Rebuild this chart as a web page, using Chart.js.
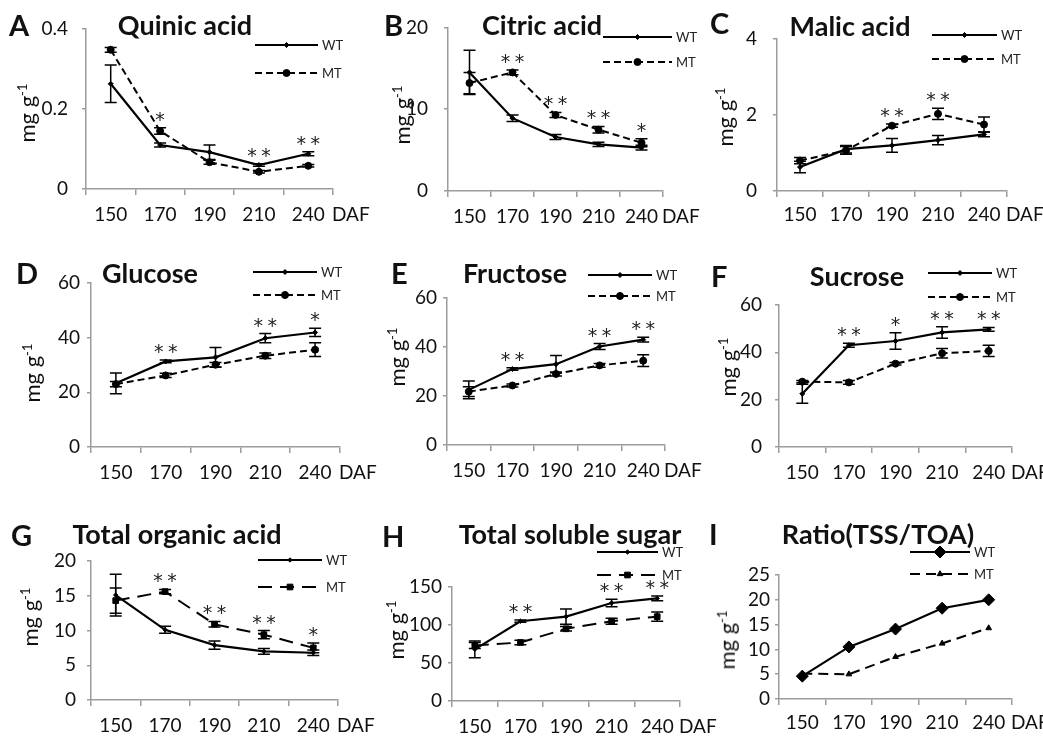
<!DOCTYPE html>
<html><head><meta charset="utf-8">
<script src="https://cdn.jsdelivr.net/npm/chart.js@4.4.1/dist/chart.umd.min.js"></script>
<style>
html,body{margin:0;padding:0;background:#fff;}
#wrap{position:relative;width:1043px;height:737px;overflow:hidden;background:#fff;font-family:Lato,'Open Sans',sans-serif;}
canvas{position:absolute;left:0;top:0;}
.lbl{position:absolute;white-space:nowrap;color:#111;line-height:1;}
.letter{font-weight:700;font-size:29px;transform:translate(0,-50%);}
.title{font-weight:700;font-size:27px;transform:translate(-50%,-50%);}
.ylab{font-size:22px;transform:translate(-50%,-50%) rotate(-90deg);}
.ylab sup{font-size:13px;}
</style></head><body><div id="wrap"></div>
<script>
const days = ['150','170','190','210','240'];

const quinicWT = [0.263,0.110,0.092,0.060,0.088];
const quinicWTErr = [0.047,0.005,0.018,0.003,0.005];
const quinicMT = [0.348,0.145,0.067,0.043,0.058];
const quinicMTErr = [0.006,0.008,0.005,0.003,0.003];
const quinicSig = ['','*','','**','**'];

const citricWT = [14.5,8.9,6.6,5.7,5.3];
const citricWTErr = [2.7,0.4,0.3,0.25,0.3];
const citricMT = [13.2,14.5,9.3,7.5,5.9];
const citricMTErr = [1.3,0.3,0.3,0.4,0.5];
const citricSig = ['','**','**','**','*'];

const malicWT = [0.63,1.10,1.20,1.34,1.49];
const malicWTErr = [0.15,0.10,0.18,0.12,0.06];
const malicMT = [0.80,1.07,1.72,2.03,1.75];
const malicMTErr = [0.08,0.10,0.04,0.15,0.20];
const malicSig = ['','','**','**',''];

const glucoseWT = [23.3,31.3,32.8,39.8,41.9];
const glucoseWTErr = [3.8,0.5,3.6,1.7,1.5];
const glucoseMT = [23.0,26.2,30.1,33.4,35.6];
const glucoseMTErr = [1.0,0.8,0.8,1.0,2.5];
const glucoseSig = ['','**','','**','*'];

const fructoseWT = [22.5,31.0,33.0,40.2,43.0];
const fructoseWTErr = [3.6,0.5,3.5,1.2,1.0];
const fructoseMT = [21.8,24.3,29.0,32.5,34.4];
const fructoseMTErr = [2.0,0.6,0.8,0.8,2.4];
const fructoseSig = ['','**','','**','**'];

const sucroseWT = [22.5,43.0,44.8,48.4,49.7];
const sucroseWTErr = [4.0,0.8,3.5,2.4,0.8];
const sucroseMT = [27.6,27.3,35.2,39.6,40.6];
const sucroseMTErr = [0.5,0.8,0.5,2.0,2.4];
const sucroseSig = ['','**','*','**','**'];

const toaWT = [15.1,10.1,7.9,7.0,6.8];
const toaWTErr = [3.0,0.5,0.6,0.4,0.4];
const toaMT = [14.3,15.6,10.9,9.4,7.5];
const toaMTErr = [1.8,0.3,0.4,0.6,0.7];
const toaSig = ['','**','**','**','*'];

const tssWT = [68,105,111,129,135];
const tssWTErr = [11,1.5,10,5,3];
const tssMT = [73,77,95,105,111];
const tssMTErr = [4,3,3,4,6];
const tssSig = ['','**','','**','**'];

const ratioWT = [4.6,10.5,14.1,18.3,20.0];
const ratioMT = [5.1,5.0,8.5,11.2,14.3];

const seriesNames = ['WT','MT'];
const xUnit = 'DAF';

const FONT = 'Lato, "Open Sans", sans-serif';
const AX = '#9c9c9c';

const panels = [
 {letter:'A', title:'Quinic acid', wt:quinicWT, wtErr:quinicWTErr, mt:quinicMT, mtErr:quinicMTErr, sig:quinicSig, max:0.4, step:0.2,
  plot:[86,29,333,189], yGap:18, xMid:26, legend:[255,318,45,73], titlePos:[185,24], letterPos:[9,24], ylab:[27,113], kind:'std'},
 {letter:'B', title:'Citric acid', wt:citricWT, wtErr:citricWTErr, mt:citricMT, mtErr:citricMTErr, sig:citricSig, max:20, step:10,
  plot:[448,24,663,191], yGap:20, xMid:26, legend:[603,672,37,62], titlePos:[542,24], letterPos:[384,24], ylab:[402,115], kind:'std'},
 {letter:'C', title:'Malic acid', wt:malicWT, wtErr:malicWTErr, mt:malicMT, mtErr:malicMTErr, sig:malicSig, max:4, step:2,
  plot:[777,39,1007,191], yGap:20, xMid:24, legend:[932,997,35,59], titlePos:[850,25], letterPos:[710,22], ylab:[725,117], kind:'std'},
 {letter:'D', title:'Glucose', wt:glucoseWT, wtErr:glucoseWTErr, mt:glucoseMT, mtErr:glucoseMTErr, sig:glucoseSig, max:60, step:20,
  plot:[91,283,340,447], yGap:11, xMid:26, legend:[253,317,272,295], titlePos:[150,272], letterPos:[16,272], ylab:[32,373], kind:'std'},
 {letter:'E', title:'Fructose', wt:fructoseWT, wtErr:fructoseWTErr, mt:fructoseMT, mtErr:fructoseMTErr, sig:fructoseSig, max:60, step:20,
  plot:[447,298,665,445], yGap:10, xMid:26, legend:[588,652,275,296], titlePos:[515,272], letterPos:[391,272], ylab:[397,357], kind:'std'},
 {letter:'F', title:'Sucrose', wt:sucroseWT, wtErr:sucroseWTErr, mt:sucroseMT, mtErr:sucroseMTErr, sig:sucroseSig, max:60, step:20,
  plot:[779,305,1012,447], yGap:17, xMid:26, legend:[928,992,273,297], titlePos:[857,275], letterPos:[711,275], ylab:[728,367], kind:'std'},
 {letter:'G', title:'Total organic acid', wt:toaWT, wtErr:toaWTErr, mt:toaMT, mtErr:toaMTErr, sig:toaSig, max:20, step:5,
  plot:[91,561,338,700], yGap:15, xMid:26, legend:[258,322,560,587], titlePos:[177,533], letterPos:[11,534], ylab:[30,617], kind:'sq'},
 {letter:'H', title:'Total soluble sugar', wt:tssWT, wtErr:tssWTErr, mt:tssMT, mtErr:tssMTErr, sig:tssSig, max:150, step:50,
  plot:[452,587,680,701], yGap:10, xMid:26, legend:[597,658,552,575], titlePos:[570,533], letterPos:[382,535], ylab:[396,630], kind:'sq'},
 {letter:'I', title:'Ratio(TSS/TOA)', wt:ratioWT, wtErr:null, mt:ratioMT, mtErr:null, sig:null, max:25, step:5,
  plot:[779,575,1012,699], yGap:9, xMid:24, legend:[910,970,552,574], titlePos:[878,533], letterPos:[709,533], ylab:[727,640], kind:'ratio'}
];

const styles = {
 std:  {wt:{ps:'rectRot', r:2.5, w:2.2, dash:[]}, mt:{ps:'circle', r:3.5, w:2, dash:[7,4]}},
 sq:   {wt:{ps:'rectRot', r:2.2, w:2.2, dash:[]}, mt:{ps:'rect', r:4, w:2, dash:[14,8]}},
 ratio:{wt:{ps:'rectRot', r:6, w:2.2, dash:[]}, mt:{ps:'triangle', r:3.3, w:2, dash:[10,6]}}
};

const wrap = document.getElementById('wrap');
function addLabel(cls, text, x, y, html){
  const d = document.createElement('div');
  d.className = 'lbl ' + cls;
  d.style.left = x + 'px'; d.style.top = y + 'px';
  if (html) d.innerHTML = html; else d.textContent = text;
  wrap.appendChild(d);
}

function panelPlugin(p){
  return {
    id: 'panel' + p.letter,
    beforeDatasetsDraw(chart){
      const ctx = chart.ctx, ys = chart.scales.y;
      ctx.save();
      ctx.strokeStyle = '#000'; ctx.lineWidth = 1.5; ctx.setLineDash([]);
      chart.data.datasets.forEach((ds, i) => {
        if (!ds.err) return;
        const meta = chart.getDatasetMeta(i);
        meta.data.forEach((pt, j) => {
          const v = ds.data[j], e = ds.err[j];
          const yt = ys.getPixelForValue(v + e), yb = ys.getPixelForValue(v - e);
          ctx.beginPath();
          ctx.moveTo(pt.x, yt); ctx.lineTo(pt.x, yb);
          ctx.moveTo(pt.x - 6, yt); ctx.lineTo(pt.x + 6, yt);
          ctx.moveTo(pt.x - 6, yb); ctx.lineTo(pt.x + 6, yb);
          ctx.stroke();
        });
      });
      ctx.restore();
    },
    afterDatasetsDraw(chart){
      const ctx = chart.ctx, ys = chart.scales.y, xs = chart.scales.x;
      const area = chart.chartArea;
      ctx.save();
      if (p.sig) {
        ctx.fillStyle = '#222';
        ctx.font = '19px "DejaVu Sans", sans-serif';
        ctx.textAlign = 'center'; ctx.textBaseline = 'alphabetic';
        p.sig.forEach((s, j) => {
          if (!s) return;
          let top = Infinity;
          chart.data.datasets.forEach(ds => {
            const v = ds.data[j] + (ds.err ? ds.err[j] : 0);
            top = Math.min(top, ys.getPixelForValue(v));
          });
          const x = xs.getPixelForValue(j);
          const n = s.length;
          for (let k = 0; k < n; k++) {
            ctx.fillText('*', x + (k - (n - 1) / 2) * 14, top - 2);
          }
        });
      }
      const [x0, x1, y1, y2] = p.legend;
      chart.data.datasets.forEach((ds, i) => {
        const yy = i === 0 ? y1 : y2;
        ctx.strokeStyle = '#000'; ctx.fillStyle = '#000';
        ctx.lineWidth = ds.borderWidth; ctx.setLineDash(ds.borderDash || []);
        ctx.beginPath(); ctx.moveTo(x0, yy); ctx.lineTo(x1, yy); ctx.stroke();
        ctx.setLineDash([]);
        ctx.lineWidth = 1;
        Chart.helpers.drawPoint(ctx, {pointStyle: ds.pointStyle, rotation: 0, radius: ds.pointRadius, borderWidth: 1}, (x0 + x1) / 2, yy);
        ctx.font = '13px ' + FONT; ctx.textAlign = 'left'; ctx.textBaseline = 'middle';
        ctx.fillStyle = '#222';
        ctx.fillText(ds.label, x1 + 4, yy + 1);
      });
      ctx.font = '19px ' + FONT; ctx.textAlign = 'left'; ctx.textBaseline = 'middle';
      ctx.fillStyle = '#111';
      ctx.fillText(xUnit, area.right - 1, area.bottom + p.xMid);
      ctx.restore();
    }
  };
}

function makePanel(p){
  const c = document.createElement('canvas');
  c.width = 1043; c.height = 737;
  c.style.width = '1043px'; c.style.height = '737px';
  wrap.appendChild(c);
  const [L, T, R, B] = p.plot;
  const YW = 60, XH = 50;
  const st = styles[p.kind];
  const mk = (name, data, err, s) => ({
    label: name, data: data, err: err,
    borderColor: '#000', backgroundColor: '#000',
    pointBackgroundColor: '#000', pointBorderColor: '#000',
    borderWidth: s.w, borderDash: s.dash,
    pointStyle: s.ps, pointRadius: s.r, pointBorderWidth: 1,
    tension: 0, fill: false
  });
  new Chart(c, {
    type: 'line',
    data: {labels: days, datasets: [mk(seriesNames[0], p.wt, p.wtErr, st.wt), mk(seriesNames[1], p.mt, p.mtErr, st.mt)]},
    options: {
      responsive: false, animation: false, devicePixelRatio: 1,
      events: [],
      layout: {padding: {left: L - YW, top: T, right: 1043 - R, bottom: 737 - B - XH}},
      plugins: {legend: {display: false}, tooltip: {enabled: false}},
      scales: {
        x: {
          type: 'category', offset: true,
          grid: {offset: true, drawOnChartArea: false, drawTicks: true, tickLength: 6, color: AX, lineWidth: 1.5},
          border: {color: AX, width: 1.5},
          ticks: {color: '#111', font: {family: FONT, size: 19}, padding: p.xMid - 6 - 11.4, maxRotation: 0, autoSkip: false},
          afterFit: s => { s.height = XH; }
        },
        y: {
          min: 0, max: p.max,
          ticks: {stepSize: p.step, autoSkip: false, color: '#111', font: {family: FONT, size: 19}, padding: p.yGap - 4},
          grid: {drawOnChartArea: false, drawTicks: true, tickLength: 4, color: AX, lineWidth: 1.5},
          border: {color: AX, width: 1.5},
          afterFit: s => { s.width = YW; }
        }
      }
    },
    plugins: [panelPlugin(p)]
  });
  addLabel('letter', p.letter, p.letterPos[0], p.letterPos[1]);
  addLabel('title', p.title, p.titlePos[0], p.titlePos[1]);
  addLabel('ylab', '', p.ylab[0], p.ylab[1], 'mg g<sup>-1</sup>');
}

panels.forEach(makePanel);
</script></body></html>
